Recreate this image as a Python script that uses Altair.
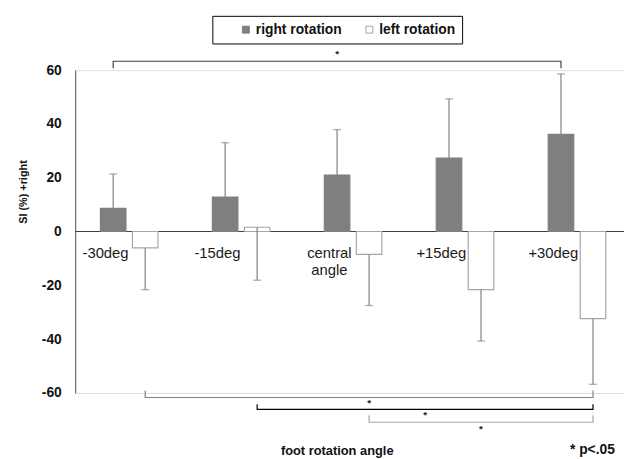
import altair as alt
import pandas as pd

# ---------------- data ----------------
categories = ["-30deg", "-15deg", "central angle", "+15deg", "+30deg"]
category_labels = ["-30deg", "-15deg", "central\nangle", "+15deg", "+30deg"]
series = ["right rotation", "left rotation"]
right_mean = [8.6, 12.8, 21.0, 27.3, 36.1]
right_sd = [12.8, 20.2, 16.9, 22.0, 22.5]
left_mean = [-6.1, 1.6, -8.5, -21.6, -32.4]
left_sd = [15.5, 19.7, 19.0, 19.1, 24.4]
y_ticks = [-60, -40, -20, 0, 20, 40, 60]

# significance brackets (from bar -> to bar, levels in SI units)
sig_from_cat = ["-30deg", "-30deg", "-15deg", "central angle"]
sig_from_series = ["right rotation", "left rotation", "left rotation", "left rotation"]
sig_to_cat = ["+30deg", "+30deg", "+30deg", "+30deg"]
sig_to_series = ["right rotation", "left rotation", "left rotation", "left rotation"]
sig_line = [63.3, -61.7, -66.1, -70.9]
sig_end = [60.7, -59.1, -64.2, -68.3]
sig_star = [65.9, -63.9, -68.3, -73.4]
sig_color = ["#404040", "#808080", "#000000", "#a6a6a6"]

# ---------------- layout constants ----------------
FONT = "Liberation Sans"
OFF = 0.143   # offset of each bar from its group centre (in category units)
HALF = 0.114  # half bar width (category units)
W, H = 556, 327


def pos(cat, ser):
    i = categories.index(cat)
    return i + (-OFF if ser == series[0] else OFF)


rows = []
for i, c in enumerate(categories):
    for s, m, sd in ((series[0], right_mean[i], right_sd[i]), (series[1], left_mean[i], left_sd[i])):
        p = pos(c, s)
        rows.append(dict(category=c, series=s, mean=m, sd=sd,
                         end=m + sd if s == series[0] else m - sd,
                         x=p, xl=p - HALF, xr=p + HALF))
bars_df = pd.DataFrame(rows)

lab_df = pd.DataFrame(dict(idx=list(range(len(categories))), label=category_labels))

br_rows, star_rows = [], []
for b in range(len(sig_line)):
    x1 = pos(sig_from_cat[b], sig_from_series[b])
    x2 = pos(sig_to_cat[b], sig_to_series[b])
    for k, (xx, yy) in enumerate([(x1, sig_end[b]), (x1, sig_line[b]), (x2, sig_line[b]), (x2, sig_end[b])]):
        br_rows.append(dict(b=b, k=k, x=xx, y=yy, col=sig_color[b]))
    star_rows.append(dict(x=(x1 + x2) / 2, y=sig_star[b], t="*"))
br_df = pd.DataFrame(br_rows)
star_df = pd.DataFrame(star_rows)

xscale = alt.Scale(domain=[-0.483, 4.420], nice=False, zero=False)
yscale = alt.Scale(domain=[-60, 60], nice=False, zero=False)

xaxis = alt.Axis(labels=False, ticks=False, domain=False, grid=False,
                 title="foot rotation angle", titleFont=FONT, titleFontSize=13,
                 titleFontWeight="bold", titleColor="#111111",
                 titleX=265, titleY=58, titleAlign="center", titleBaseline="middle")
yaxis = alt.Axis(values=y_ticks, grid=False, tickSize=0, labelPadding=14,
                 labelExpr="'' + datum.value",
                 labelFont=FONT, labelFontSize=14, labelFontWeight="bold", labelColor="#111111",
                 domainColor="#6e6e6e", domainWidth=1.2,
                 title="SI (%)  +right", titleFont=FONT, titleFontSize=11,
                 titleFontWeight="bold", titleColor="#111111",
                 titleX=-52.5, titleY=123, titleAlign="center", titleBaseline="middle", titleAngle=270)

base = alt.Chart(bars_df)

zero = base.mark_rule(color="#404040", strokeWidth=1.2).encode(
    y=alt.datum(0, scale=yscale), x=alt.value(0), x2=alt.value(W))

bars = base.mark_bar(strokeWidth=1.2).encode(
    x=alt.X("xl:Q", scale=xscale, axis=xaxis),
    x2="xr:Q",
    y=alt.Y("mean:Q", scale=yscale, axis=yaxis),
    y2=alt.datum(0),
    fill=alt.Fill("series:N", scale=alt.Scale(domain=series, range=["#7f7f7f", "#ffffff"]),
                  legend=alt.Legend(
                      orient="none", legendX=139, legendY=-55, direction="horizontal",
                      title=None, strokeColor="#000000", fillColor="#ffffff", padding=7,
                      symbolType="square", symbolSize=49, symbolStrokeColor="#333333",
                      symbolStrokeWidth=1, symbolOffset=20, columnPadding=0, labelOffset=3,
                      labelFont=FONT, labelFontSize=14, labelFontWeight="bold", labelColor="#111111",
                      labelExpr="datum.label == 'left rotation' ? datum.label + '    ' : datum.label")),
    stroke=alt.Stroke("series:N", scale=alt.Scale(domain=series, range=["#7f7f7f", "#a6a6a6"]),
                      legend=None),
)

err = base.mark_rule(color="#8a8a8a", strokeWidth=1.3).encode(
    x="x:Q", y="mean:Q", y2="end:Q")
caps = base.mark_tick(color="#8a8a8a", orient="horizontal", size=8, thickness=1.3).encode(
    x="x:Q", y="end:Q")

labels = alt.Chart(lab_df).mark_text(
    dx=-24, dy=22, lineBreak="\n", lineHeight=17, baseline="middle", align="center",
    font=FONT, fontSize=15, color="#1a1a1a").encode(
    x=alt.X("idx:Q", scale=xscale), y=alt.datum(0, scale=yscale), text="label:N")

brackets = alt.Chart(br_df).mark_line(strokeWidth=1.2).encode(
    x=alt.X("x:Q", scale=xscale), y=alt.Y("y:Q", scale=yscale),
    detail="b:N", order="k:Q", color=alt.Color("col:N", scale=None))

stars = alt.Chart(star_df).mark_text(font=FONT, fontSize=10, fontWeight="bold",
                                     baseline="middle", color="#222222").encode(
    x=alt.X("x:Q", scale=xscale), y=alt.Y("y:Q", scale=yscale), text="t:N")

pnote = alt.Chart(pd.DataFrame({"t": ["* p<.05"]})).mark_text(
    font=FONT, fontSize=14, fontWeight="bold", align="center", baseline="middle",
    color="#111111").encode(x=alt.value(524), y=alt.value(385), text="t:N")

chart = alt.layer(zero, bars, err, caps, labels, brackets, stars, pnote).properties(
    width=W, height=H,
    padding={"left": 68, "top": 60, "right": 0, "bottom": 64},
    autosize="none",
).configure_view(stroke=None).configure(background="white")

chart.save("out.html", embed_options={"renderer": "svg", "actions": False})
